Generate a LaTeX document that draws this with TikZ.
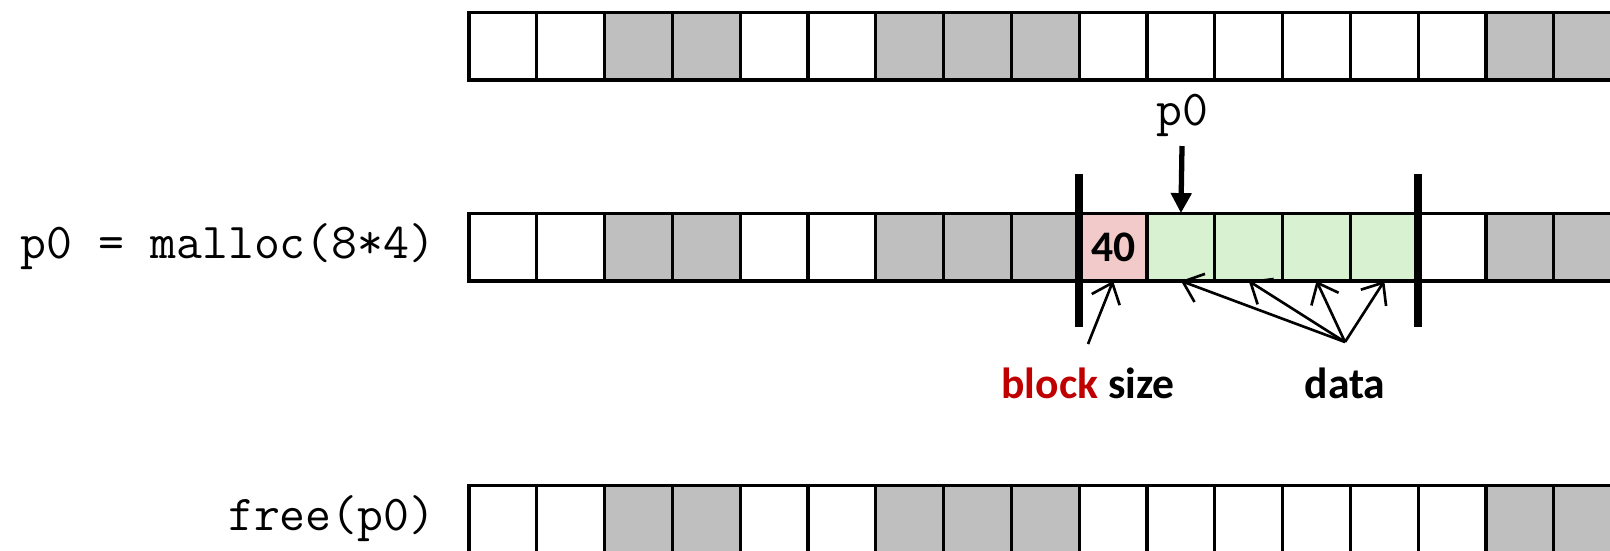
\documentclass[tikz,border=0pt]{standalone}
\usepackage{fontspec}
\newfontfamily\labelfont{Carlito}
\usetikzlibrary{arrows.meta}
\definecolor{usedgray}{HTML}{BFBFBF}
\definecolor{hdrpink}{HTML}{F2CACA}
\definecolor{datagreen}{HTML}{D8F1D0}
\definecolor{blockred}{HTML}{C00000}
\begin{document}
\begin{tikzpicture}[x=0.01cm,y=-0.01cm,
    cell/.style={draw,line width=0.9pt,minimum width=0.678cm,minimum height=0.678cm,inner sep=0pt,outer sep=0pt},
    code/.style={font=\ttfamily\fontsize{14.3}{16}\selectfont,inner sep=0pt},
    tag/.style={font=\labelfont\bfseries\fontsize{12.4}{14}\selectfont,inner sep=0pt},
    bar/.style={line width=2.2pt},
    ptrarrow/.style={line width=1.5pt,-{Triangle[length=2mm,width=2mm]}},
    pointer/.style={line width=0.75pt,-{Straight Barb[length=1.8mm,width=3mm]}}]
    \useasboundingbox (0,0) rectangle (1610,550);
    \clip (0,0) rectangle (1610,550);
    % heap before the call
    \foreach \f [count=\i] in {white,white,usedgray,usedgray,white,white,usedgray,usedgray,usedgray,
        white,white,white,white,white,white,usedgray,usedgray}
        \node[cell,fill=\f] (top\i) at ({469+(\i-0.5)*67.8},46) {};
    % heap after malloc
    \foreach \f [count=\i] in {white,white,usedgray,usedgray,white,white,usedgray,usedgray,usedgray,
        hdrpink,datagreen,datagreen,datagreen,datagreen,white,usedgray,usedgray}
        \node[cell,fill=\f] (mid\i) at ({469+(\i-0.5)*67.8},247) {};
    % heap after free
    \foreach \f [count=\i] in {white,white,usedgray,usedgray,white,white,usedgray,usedgray,usedgray,
        white,white,white,white,white,white,usedgray,usedgray}
        \node[cell,fill=\f] (bot\i) at ({469+(\i-0.5)*67.8},519) {};
    \node[code,anchor=east] (call) at (436,247) {p0 = malloc(8*4)};
    \node[code,anchor=east] (release) at (436,519) {free(p0)};
    \node[tag] (size) at (mid10) {40};
    % block boundaries
    \draw[bar] (1079,174) -- (1079,327);
    \draw[bar] (1418,174) -- (1418,327);
    % returned pointer
    \node[code] (ptr) at (1182,115) {p0};
    \coordinate (ptrtail) at (1182,146);
    \draw[ptrarrow] (ptrtail) -- (mid11.north);
    % labels below
    \node[tag] (blk) at (1088,383) {\textcolor{blockred}{block} size};
    \node[tag] (dat) at (1345,383) {data};
    \coordinate (blktail) at (1088,344);
    \coordinate (dattail) at (1345,342);
    \draw[pointer] (blktail) -- (mid10.south);
    \foreach \i in {11,...,14}
        \draw[pointer] (dattail) -- (mid\i.south);
\end{tikzpicture}
\end{document}
